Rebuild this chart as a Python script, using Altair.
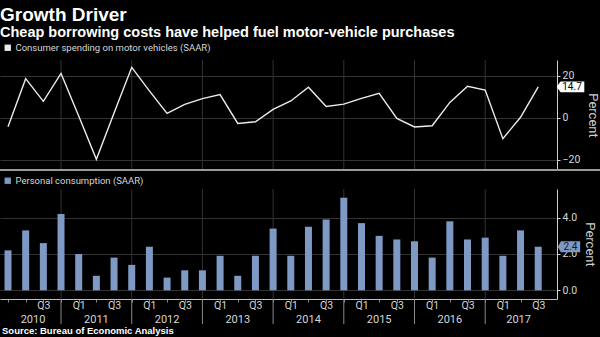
import json
import altair as alt
import pandas as pd

# ---------------- data ----------------
years = ["2010", "2011", "2012", "2013", "2014", "2015", "2016", "2017"]
quarter_names = ["Q1", "Q2", "Q3", "Q4"]
periods = [f"{y} {q}" for y in years for q in quarter_names][:31]  # 2010 Q1 .. 2017 Q3

motor_vehicles = [-4.3, 18.6, 7.8, 21.1, 0.8, -19.8, 2.3, 24.0, 12.8, 2.1,
                  6.4, 9.1, 11.0, -2.7, -1.9, 4.0, 8.0, 14.5, 5.4, 6.5,
                  9.2, 11.6, -0.3, -4.4, -3.8, 7.3, 15.0, 13.2, -10.0, 0.2, 14.7]
consumption = [2.2, 3.3, 2.6, 4.2, 2.0, 0.8, 1.8, 1.4, 2.4, 0.7,
               1.1, 1.1, 1.9, 0.8, 1.9, 3.4, 1.9, 3.5, 3.9, 5.1,
               3.7, 3.0, 2.8, 2.7, 1.8, 3.8, 2.8, 2.9, 1.9, 3.3, 2.4]

top_series = "Consumer spending on motor vehicles (SAAR)"
bottom_series = "Personal consumption (SAAR)"
title_text = "Growth Driver"
subtitle_text = "Cheap borrowing costs have helped fuel motor-vehicle purchases"
source_text = "Source: Bureau of Economic Analysis"

top_ticks = [-20, 0, 20]
bottom_ticks = [0, 2, 4]

# ---------------- derived tables ----------------
n = len(periods)
# the first quarter's label falls off the left edge in the original, so it is left blank
tick_labels = [p.split(" ")[1] if (p.split(" ")[1] in ("Q1", "Q3") and i > 0) else ""
               for i, p in enumerate(periods)]
X_DOMAIN = [-0.17, 30.78]
TOP_DOMAIN = [-24.9, 27.5]
BOT_DOMAIN = [-0.48, 5.58]

df = pd.DataFrame({
    "idx": list(range(n)),
    "period": periods,
    "motor": motor_vehicles,
    "cons": consumption,
    "s1": [top_series] * n,
    "s2": [bottom_series] * n,
})

# year boundaries (Q4 points) and year label centres
sep_idx = [i for i, p in enumerate(periods) if p.endswith("Q4")]
sep_df = pd.DataFrame({"pos": sep_idx,
                       "top_hi": TOP_DOMAIN[1], "top_lo": TOP_DOMAIN[0],
                       "bot_hi": BOT_DOMAIN[1], "bot_lo": BOT_DOMAIN[0]})
year_rows = []
for k, y in enumerate(years):
    lo = max(4 * k - 1, X_DOMAIN[0])
    hi = min(4 * k + 3, X_DOMAIN[1])
    year_rows.append({"year": y, "mid": (lo + hi) / 2})
year_df = pd.DataFrame(year_rows)

last_top = pd.DataFrame({"v": [motor_vehicles[-1]], "lab": [f"{motor_vehicles[-1]:.1f}"]})
last_bot = pd.DataFrame({"v": [consumption[-1]], "lab": [f"{consumption[-1]:.1f}"]})
line_df = pd.DataFrame({"lo": [TOP_DOMAIN[0]]})
source_df = pd.DataFrame({"t": [source_text]})

# ---------------- style ----------------
FONT = "Roboto"
HEAD = "Liberation Sans"
TXT = "#d6d6d6"
GRID = "#333333"
LINE = "#ececec"
BAR = "#7e99c4"
W, H = 557, 239

x_axis = alt.Axis(values=list(range(n)), labelExpr=f"{json.dumps(tick_labels)}[datum.value]",
                  tickSize=3, tickColor="#8a8a8a", domainColor="#bdbdbd", labelColor=TXT,
                  labelFontSize=10.5, labelFont=FONT, labelPadding=-2, grid=False, title=None,
                  labelOverlap=False, labelFlush=False)
x_scale = alt.Scale(domain=X_DOMAIN, nice=False, zero=False)


def xenc(field):
    return alt.X(field, scale=x_scale, axis=x_axis, title=None)


top_scale = alt.Scale(domain=TOP_DOMAIN, range=[110, 0], nice=False, zero=False)
top_axis = alt.Axis(orient="right", values=top_ticks, grid=True, gridColor=GRID,
                    domainColor="#d0d0d0", tickColor="#d0d0d0", tickSize=3,
                    labelColor=TXT, labelFontSize=10.5, labelFont=FONT, labelPadding=2,
                    title="Percent", titleAngle=90, titleColor="#cfcfcf", titleFontSize=13,
                    titleFont=FONT, titleFontWeight="normal", titlePadding=6)
bot_scale = alt.Scale(domain=BOT_DOMAIN, range=[239, 129], nice=False, zero=False)
bot_axis = alt.Axis(orient="right", values=bottom_ticks, format=".1f", grid=True, gridColor=GRID,
                    domainColor="#d0d0d0", tickColor="#d0d0d0", tickSize=3,
                    labelColor=TXT, labelFontSize=10.5, labelFont=FONT, labelPadding=2,
                    title="Percent", titleAngle=90, titleColor="#cfcfcf", titleFontSize=13,
                    titleFont=FONT, titleFontWeight="normal", titlePadding=6)


def ytop(field):
    return alt.Y(field, scale=top_scale, axis=top_axis, title="Percent")


def ybot(field):
    return alt.Y(field, scale=bot_scale, axis=bot_axis, title="Percent")


def tag_path(w, h):
    a = h / w
    return f"M-1,0L-0.72,{-a:.3f}L1,{-a:.3f}L1,{a:.3f}L-0.72,{a:.3f}Z"


legend_common = dict(orient="none", title=None, symbolType="square", symbolSize=40,
                     symbolStrokeWidth=0, labelFontSize=9.5, labelColor=TXT, labelFont=FONT,
                     labelOffset=3, labelLimit=400)

# ---------------- top panel ----------------
top_grid = alt.Chart(sep_df).mark_rule(color=GRID, strokeWidth=1).encode(
    x=xenc("pos:Q"), y=ytop("top_hi:Q"), y2="top_lo:Q")
top_line = alt.Chart(df).mark_line(strokeWidth=1.4, color=LINE).encode(
    x=xenc("idx:Q"), y=ytop("motor:Q"),
    color=alt.Color("s1:N", scale=alt.Scale(range=[LINE]),
                    legend=alt.Legend(legendX=3, legendY=-17, **legend_common)))
separator = alt.Chart(line_df).mark_rule(color="#9a9a9a", strokeWidth=2).encode(
    x=alt.value(0), x2=alt.value(600), y=ytop("lo:Q"))
top_tag = alt.Chart(last_top).mark_point(shape=tag_path(27.6, 10.8), filled=True, size=27.6 ** 2,
                                         color="#ffffff", opacity=1).encode(
    x=alt.value(570.5), y=ytop("v:Q"))
top_tag_text = alt.Chart(last_top).mark_text(fontSize=10, font=FONT, color="#000000").encode(
    x=alt.value(572), y=ytop("v:Q"), text="lab:N")

top = alt.layer(top_grid, top_line, separator, top_tag, top_tag_text)

# ---------------- bottom panel ----------------
bot_grid = alt.Chart(sep_df).mark_rule(color=GRID, strokeWidth=1).encode(
    x=xenc("pos:Q"), y=ybot("bot_hi:Q"), y2="bot_lo:Q")
bars = alt.Chart(df).mark_bar(size=7).encode(
    x=xenc("idx:Q"), y=ybot("cons:Q"), y2=alt.datum(0),
    color=alt.Color("s2:N", scale=alt.Scale(range=[BAR]),
                    legend=alt.Legend(legendX=3, legendY=116, **legend_common)))
long_ticks = alt.Chart(sep_df).mark_rule(color="#8a8a8a", strokeWidth=1).encode(
    x=xenc("pos:Q"), y=alt.value(239), y2=alt.value(264))
year_text = alt.Chart(year_df).mark_text(fontSize=11, font=FONT, color=TXT, baseline="middle").encode(
    x=xenc("mid:Q"), y=alt.value(259.5), text="year:N")
bot_tag = alt.Chart(last_bot).mark_point(shape=tag_path(22.4, 11), filled=True, size=22.4 ** 2,
                                         color=BAR, opacity=1).encode(
    x=alt.value(569), y=ybot("v:Q"))
bot_tag_text = alt.Chart(last_bot).mark_text(fontSize=10, font=FONT, color="#0e1a30").encode(
    x=alt.value(570.5), y=ybot("v:Q"), text="lab:N")
source = alt.Chart(source_df).mark_text(align="left", baseline="middle", fontSize=9.5, font=HEAD,
                                        fontWeight="bold", color="#ffffff").encode(
    x=alt.value(2), y=alt.value(271), text="t:N")

bottom = alt.layer(bot_grid, bars, long_ticks, year_text, bot_tag, bot_tag_text, source)

chart = alt.layer(top, bottom).resolve_scale(y="independent", color="independent").properties(
    width=W, height=H,
    autosize=alt.AutoSizeParams(type="none"),
    padding={"left": 0, "top": 60, "right": 43, "bottom": 38},
    title=alt.TitleParams(title_text, subtitle=subtitle_text, anchor="start", frame="group",
                          font=HEAD, fontSize=19, fontWeight="bold", color="#ffffff",
                          subtitleFont=HEAD, subtitleFontSize=14.5, subtitleFontWeight="bold",
                          subtitleColor="#ffffff", subtitlePadding=1, offset=4),
).configure(
    background="#000000", font=FONT
).configure_view(stroke=None).configure_legend(symbolBaseFillColor=LINE)

chart.save("out.html", embed_options={"renderer": "svg", "actions": False})
